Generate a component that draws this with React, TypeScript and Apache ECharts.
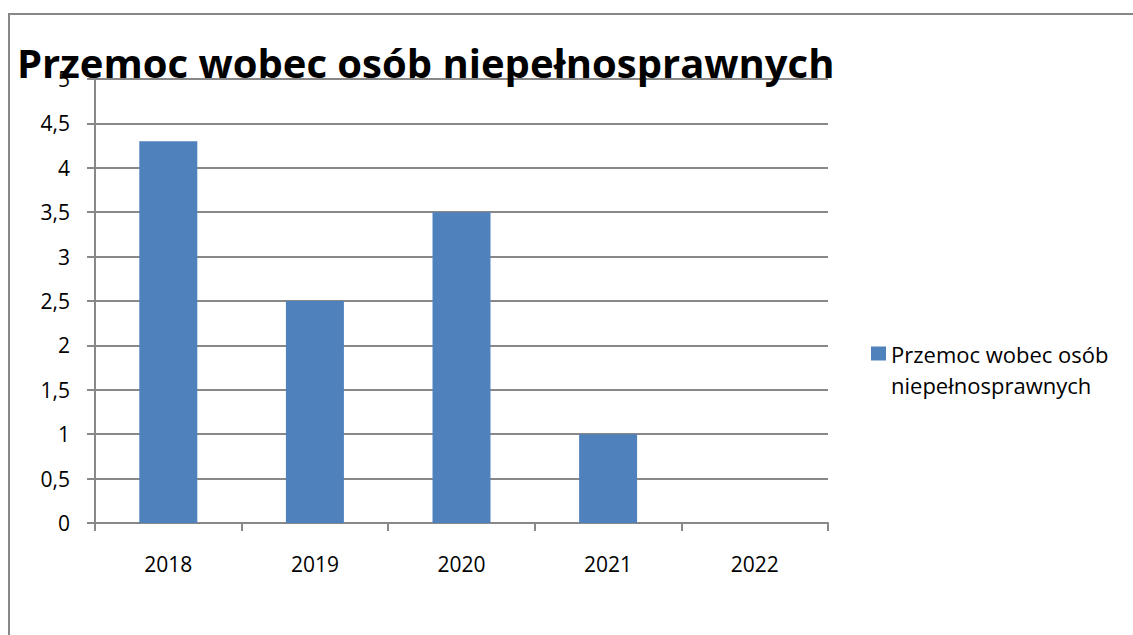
import React, { useEffect, useRef } from "react";
import * as echarts from "echarts";

const titleText = "Przemoc wobec osób niepełnosprawnych";
const seriesName = "Przemoc wobec osób niepełnosprawnych";
const legendLines = ["Przemoc wobec osób", "niepełnosprawnych"];
const years = ["2018", "2019", "2020", "2021", "2022"];
const values = [4.3, 2.5, 3.5, 1, 0];
const yMin = 0;
const yMax = 5;
const yStep = 0.5;

export default function App() {
  const ref = useRef<HTMLDivElement>(null);
  useEffect(() => {
    if (!ref.current) return;
    const chart = echarts.init(ref.current, undefined, { renderer: "svg" });
    const font = "'Open Sans', 'Noto Sans', sans-serif";
    chart.setOption({
      animation: false,
      backgroundColor: "#ffffff",
      textStyle: { fontFamily: font },
      title: {
        text: titleText,
        left: 17,
        top: 42,
        padding: 0,
        textStyle: { fontFamily: font, fontSize: 40, fontWeight: "bold", color: "#000" },
      },
      legend: {
        orient: "vertical",
        left: 866,
        top: 302,
        itemWidth: 15,
        itemHeight: 14,
        itemGap: 8,
        icon: "rect",
        data: [seriesName],
        formatter: () => "\n" + legendLines.join("\n"),
        textStyle: { fontFamily: font, fontSize: 22, color: "#000", lineHeight: 31 },
      },
      grid: { left: 95, right: 305, top: 79, bottom: 112, containLabel: false },
      xAxis: {
        type: "category",
        data: years,
        boundaryGap: true,
        axisLine: { show: true, lineStyle: { color: "#888888", width: 2 } },
        axisTick: { show: true, length: 8, interval: 0, lineStyle: { color: "#888888", width: 2 } },
        axisLabel: { fontFamily: font, fontSize: 21, color: "#000", margin: 30 },
      },
      yAxis: {
        type: "value",
        min: yMin,
        max: yMax,
        interval: yStep,
        axisLine: { show: true, lineStyle: { color: "#888888", width: 2 } },
        axisTick: { show: true, length: 8, lineStyle: { color: "#888888", width: 2 } },
        axisLabel: {
          fontFamily: font,
          fontSize: 21,
          color: "#000",
          margin: 25,
          formatter: (v: number) => String(v).replace(".", ","),
        },
        splitLine: { show: true, lineStyle: { color: "#888888", width: 2 } },
      },
      graphic: [
        { type: "line", shape: { x1: 8, y1: 14, x2: 1133, y2: 14 }, style: { stroke: "#878787", lineWidth: 2 }, z: 100 },
        { type: "line", shape: { x1: 9, y1: 13, x2: 9, y2: 635 }, style: { stroke: "#878787", lineWidth: 2 }, z: 100 },
      ],
      series: [
        {
          name: seriesName,
          type: "bar",
          data: values,
          barWidth: 58,
          itemStyle: { color: "#4F81BD" },
        },
      ],
    });
    return () => chart.dispose();
  }, []);
  return <div ref={ref} style={{ position: "fixed", left: 0, top: 0, width: 1133, height: 635 }} />;
}
